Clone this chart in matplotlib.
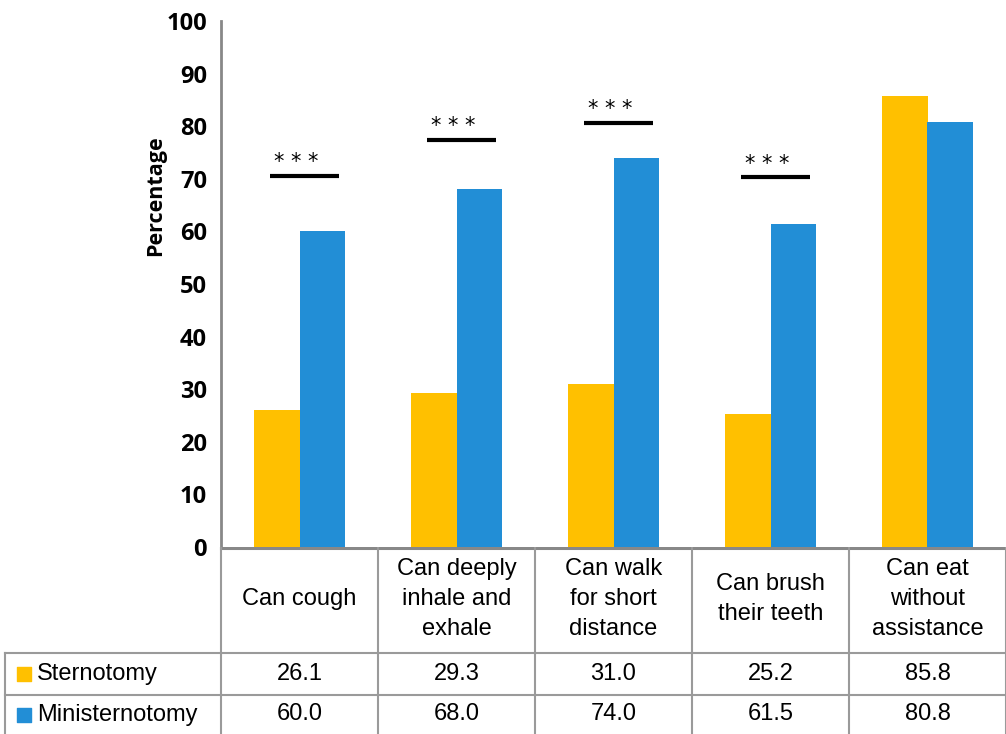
import numpy as np
import matplotlib
matplotlib.use('Agg')
from matplotlib import pyplot as plt

plt.rcParams['font.family'] = ['Liberation Sans', 'DejaVu Sans']

categories = ['Can cough', 'Can deeply\ninhale and\nexhale', 'Can walk\nfor short\ndistance',
              'Can brush\ntheir teeth', 'Can eat\nwithout\nassistance']
series_names = ['Sternotomy', 'Ministernotomy']
sternotomy = [26.1, 29.3, 31.0, 25.2, 85.8]
ministernotomy = [60.0, 68.0, 74.0, 61.5, 80.8]
sig_line_y = [70.5, 77.4, 80.6, 70.3]   # height of the *** bars (first four groups)
sig_text = '* * *'

colors = ['#FFC000', '#228ED6']
grid_col = '#9A9A9A'

W, H = 1006, 734
fig = plt.figure(figsize=(W / 100, H / 100), dpi=100)

# main bar axes
ax_l, ax_r, ax_b, ax_t = 221, 1006, 547, 21
ax = fig.add_axes([ax_l / W, (H - ax_b) / H, (ax_r - ax_l) / W, (ax_b - ax_t) / H])
x = np.arange(len(categories))
bw = 0.29
ax.bar(x - bw / 2, sternotomy, bw, color=colors[0])
ax.bar(x + bw / 2, ministernotomy, bw, color=colors[1])
ax.set_xlim(-0.5, len(categories) - 0.5)
ax.set_ylim(0, 100)
ax.set_yticks(range(0, 101, 10))
ax.tick_params(axis='y', length=0, pad=10)
for lab in ax.get_yticklabels():
    lab.set_fontweight('bold')
    lab.set_fontsize(17)
    lab.set_family(['Open Sans', 'DejaVu Sans'])
ax.set_xticks([])
ax.set_ylabel('Percentage', fontsize=15.5, fontweight='bold', family=['Open Sans', 'DejaVu Sans'])
ax.yaxis.set_label_coords(-0.07, 0.667)
for s in ['top', 'right', 'bottom']:
    ax.spines[s].set_visible(False)
ax.spines['left'].set_color('#888888')
ax.spines['left'].set_linewidth(2)

for i, yv in enumerate(sig_line_y):
    ax.plot([i - 0.19, i + 0.25], [yv, yv], color='black', lw=3, solid_capstyle='butt')
    ax.text(i - 0.165, yv + 0.7, sig_text, fontsize=15, family='DejaVu Sans', va='bottom', ha='left')

# data table below
tab_h = H - ax_b
tax = fig.add_axes([0, 0, 1, tab_h / H])
px = (ax_r - ax_l) / len(categories)
tax.set_xlim(-0.5 - ax_l / px, len(categories) - 0.5)
tax.set_ylim(0, tab_h)
tax.axis('off')

row_edges = [0, 39, 81, tab_h]   # bottom row, middle row, header row
left_edge = -0.5 - (ax_l - 5) / px
lw = 1.5
# horizontal lines
tax.plot([-0.5, len(categories) - 0.5], [tab_h - 1, tab_h - 1], color='#888888', lw=2.2)
for yv in row_edges[1:3]:
    tax.plot([left_edge, len(categories) - 0.5], [yv, yv], color=grid_col, lw=lw)
# vertical lines
for i in range(len(categories) + 1):
    tax.plot([i - 0.5, i - 0.5], [0, tab_h], color=grid_col, lw=lw)
tax.plot([left_edge, left_edge], [0, row_edges[2]], color=grid_col, lw=lw)

tsize = 17
for i, c in enumerate(categories):
    tax.text(i, (row_edges[2] + tab_h) / 2 + 1, c, ha='center', va='center', fontsize=tsize, linespacing=1.45)

rows = [sternotomy, ministernotomy]
for r, (name, vals) in enumerate(zip(series_names, rows)):
    yc = (row_edges[2 - r] + row_edges[1 - r]) / 2
    tax.scatter([left_edge + 0.121], [yc], marker='s', s=100, color=colors[r])
    tax.text(left_edge + 0.205, yc, name, ha='left', va='center', fontsize=tsize)
    for i, v in enumerate(vals):
        tax.text(i, yc, f'{v:.1f}', ha='center', va='center', fontsize=tsize)

fig.savefig('out.png', dpi=100)
